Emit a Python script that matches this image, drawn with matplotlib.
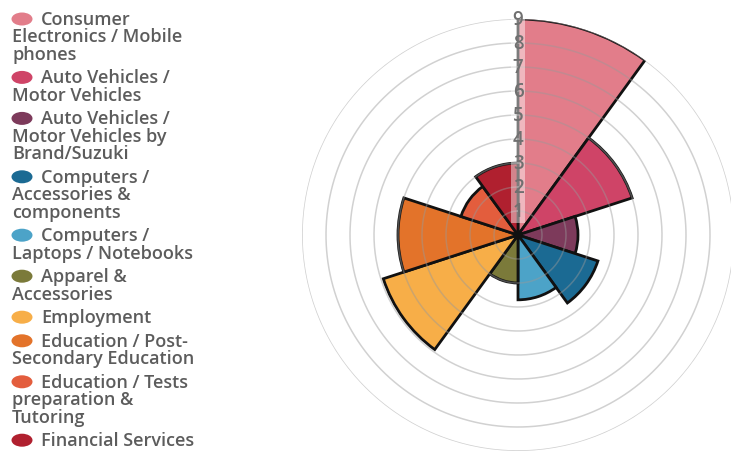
import numpy as np
import matplotlib.pyplot as plt
from matplotlib.patches import Ellipse

# Categories (legend text, wrapped as in the original)
labels = [
    "Consumer\nElectronics / Mobile\nphones",
    "Auto Vehicles /\nMotor Vehicles",
    "Auto Vehicles /\nMotor Vehicles by\nBrand/Suzuki",
    "Computers /\nAccessories &\ncomponents",
    "Computers /\nLaptops / Notebooks",
    "Apparel &\nAccessories",
    "Employment",
    "Education / Post-\nSecondary Education",
    "Education / Tests\npreparation &\nTutoring",
    "Financial Services",
]
values = [9, 5, 2.5, 3.5, 2.7, 2, 5.9, 5, 2.5, 3]
colors = ["#e27d8a", "#cf4467", "#7d3a5b", "#1b6a93", "#4ca3c8",
          "#7b7a3a", "#f7ae48", "#e3732a", "#e35d3d", "#b0202f"]
ring_ticks = [1, 2, 3, 4, 5, 6, 7, 8, 9]

W, H = 731, 452
fig = plt.figure(figsize=(W / 100, H / 100), dpi=100)

# polar area chart, centre at (518, 236) px, radius 216 px
cx, cy, R = 518, 236, 216
ax = fig.add_axes([(cx - R) / W, (H - cy - R) / H, 2 * R / W, 2 * R / H],
                  projection="polar")
ax.set_theta_zero_location("N")
ax.set_theta_direction(-1)

n = len(values)
width = 2 * np.pi / n
theta = np.arange(n) * width
ax.bar(theta, values, width=width, align="edge", color=colors,
       edgecolor="#111111", linewidth=2.0, zorder=2)

ax.set_ylim(0, 9)
ax.set_yticks(ring_ticks)
ax.set_yticklabels([])
ax.set_xticks([])
ax.spines["polar"].set_visible(False)
ax.grid(False)
for r in ring_ticks:
    t = np.linspace(0, 2 * np.pi, 400)
    ax.plot(t, np.full_like(t, r), color="#999999", lw=1.1, alpha=0.45,
            zorder=3)

for r in ring_ticks:
    ax.text(0, r, str(r), ha="center", va="center", fontsize=13.5,
            color="#707070", family="Open Sans", fontweight="semibold",
            zorder=5,
            bbox=dict(boxstyle="square,pad=0.1", facecolor="white",
                      alpha=0.45, edgecolor="none"))

# legend drawn by hand: marker, first line indented, wrapped lines flush left
line_h = 17.4
gap = 6.2
y = 20
for lab, col in zip(labels, colors):
    lines = lab.split("\n")
    fig.patches.append(Ellipse((22, H - y), 21, 13, transform=None,
                               facecolor=col, edgecolor="none"))
    for i, ln in enumerate(lines):
        x0 = 41 if i == 0 else 12
        fig.text(x0 / W, (H - y - i * line_h) / H, ln, ha="left",
                 va="center", fontsize=13, color="#5c5c5c",
                 family="Open Sans", fontweight="semibold")
    y += len(lines) * line_h + gap

fig.savefig("out.png", dpi=100)
